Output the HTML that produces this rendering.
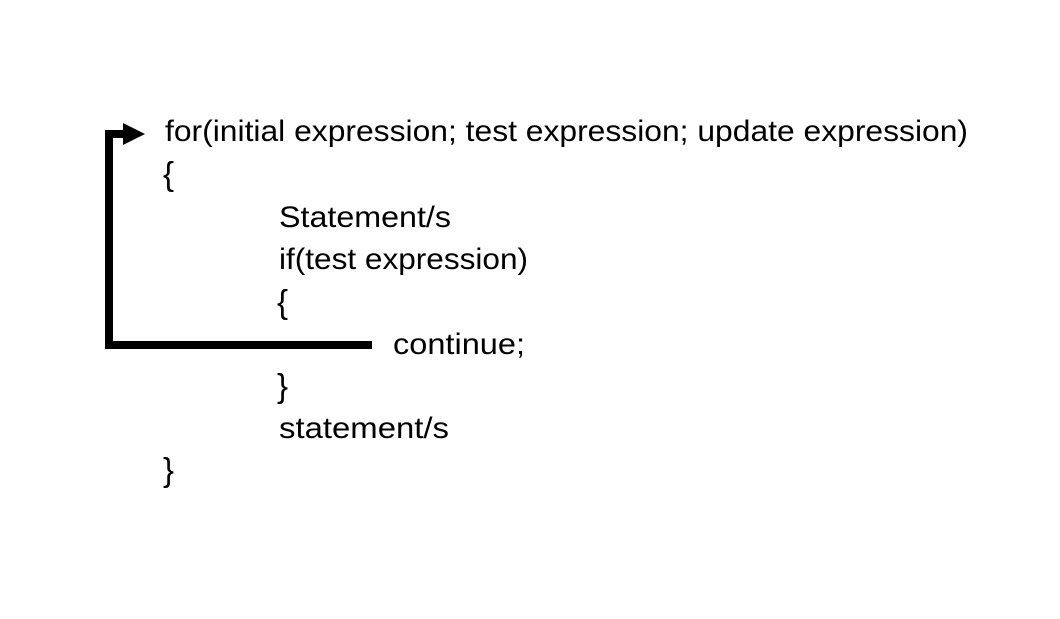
<!DOCTYPE html>
<html><head><style>html,body{margin:0;padding:0;background:#fff;}svg{display:block}</style></head>
<body>
<svg width="1060" height="619" xmlns="http://www.w3.org/2000/svg">
<rect width="1060" height="619" fill="#fff"/>
<polyline points="372,345 109,345 109,134 126,134" fill="none" stroke="#000" stroke-width="8"/>
<polygon points="123,123 145,134 123,145" fill="#000"/>
<g font-family="Liberation Sans, sans-serif" font-size="30" fill="#000">
<text x="165" y="141" textLength="803" lengthAdjust="spacingAndGlyphs">for(initial expression; test expression; update expression)</text>
<text x="163" y="185" font-size="33">{</text>
<text x="279" y="227" textLength="172" lengthAdjust="spacingAndGlyphs">Statement/s</text>
<text x="279" y="269" textLength="249" lengthAdjust="spacingAndGlyphs">if(test expression)</text>
<text x="277" y="313" font-size="33">{</text>
<text x="393" y="354" textLength="132" lengthAdjust="spacingAndGlyphs">continue;</text>
<text x="277" y="397" font-size="33">}</text>
<text x="279" y="438" textLength="170" lengthAdjust="spacingAndGlyphs">statement/s</text>
<text x="163" y="481" font-size="33">}</text>
</g>
</svg>
</body></html>
